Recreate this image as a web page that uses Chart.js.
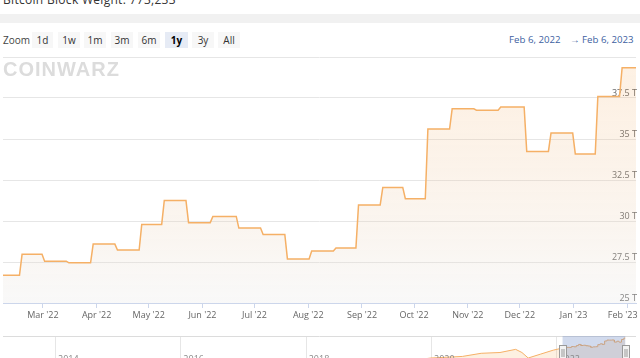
<!DOCTYPE html>
<html>
<head>
<meta charset="utf-8">
<script src="https://cdn.jsdelivr.net/npm/chart.js@4.4.1/dist/chart.umd.min.js"></script>
<style>
  body { margin: 0; width: 640px; height: 358px; overflow: hidden; background: #fff; position: relative; font-family: "Open Sans", sans-serif; }
  .title { position: absolute; left: 3px; top: -9px; font-size: 12px; color: #333; white-space: nowrap; letter-spacing: 0.3px; }
  .band { position: absolute; left: 0; top: 14px; width: 640px; height: 9px; background: #f1f1f1; }
  .zoom { position: absolute; left: 3px; top: 32px; height: 16px; font-size: 10px; color: #444; line-height: 16px; }
  .btn { position: absolute; top: 32px; height: 16px; line-height: 16px; font-size: 10px; text-align: center; background: #f7f7f7; color: #333; }
  .btn.on { background: #e6ebf5; color: #000; font-weight: bold; }
  .range { position: absolute; top: 32px; line-height: 16px; font-size: 9.7px; color: #3d5f9f; white-space: nowrap; }
  .logo { position: absolute; left: 3px; top: 59px; font-family: "Liberation Sans", sans-serif; font-weight: bold; font-size: 20px; letter-spacing: 1px; color: #dcdcdc; line-height: 20px; }
  canvas { position: absolute; left: 0; }
</style>
</head>
<body>
<div class="title">Bitcoin Block Weight: 773,233</div>
<div class="band"></div>
<div class="zoom">Zoom</div>
<div class="btn" style="left:32px;width:21px">1d</div>
<div class="btn" style="left:58px;width:22px">1w</div>
<div class="btn" style="left:84px;width:22px">1m</div>
<div class="btn" style="left:111px;width:22px">3m</div>
<div class="btn" style="left:138px;width:22px">6m</div>
<div class="btn on" style="left:165px;width:23px">1y</div>
<div class="btn" style="left:192px;width:22px">3y</div>
<div class="btn" style="left:218px;width:22px">All</div>
<div class="range" style="left:509px">Feb 6, 2022</div>
<div class="range" style="left:570px">&rarr;</div>
<div class="range" style="left:582px">Feb 6, 2023</div>
<canvas id="main" width="640" height="280" style="top:50px"></canvas>
<canvas id="nav" width="640" height="33" style="top:336px"></canvas>
<div class="logo">COINWARZ</div>

<script>
// difficulty adjustments (T) over the 1y window
const adjustDates = ["2022-02-06", "2022-02-17", "2022-03-02", "2022-03-16", "2022-03-30", "2022-04-13",
  "2022-04-27", "2022-05-10", "2022-05-24", "2022-06-07", "2022-06-22", "2022-07-06", "2022-07-20",
  "2022-08-03", "2022-08-17", "2022-08-30", "2022-09-13", "2022-09-26", "2022-10-09", "2022-10-23",
  "2022-11-06", "2022-11-20", "2022-12-05", "2022-12-19", "2023-01-02", "2023-01-15", "2023-01-29"];
const difficulty = [26.69, 27.97, 27.55, 27.45, 28.59, 28.23, 29.79, 31.25, 29.90, 30.28, 29.57, 29.18, 27.69,
  28.17, 28.35, 30.98, 32.05, 31.36, 35.61, 36.84, 36.76, 36.95, 34.24, 35.36, 34.09, 37.59, 39.35];
const rangeEnd = "2023-02-06";

const monthTicks = ["2022-03-01", "2022-04-01", "2022-05-01", "2022-06-01", "2022-07-01", "2022-08-01",
  "2022-09-01", "2022-10-01", "2022-11-01", "2022-12-01", "2023-01-01", "2023-02-01"];
const monthLabels = ["Mar '22", "Apr '22", "May '22", "Jun '22", "Jul '22", "Aug '22",
  "Sep '22", "Oct '22", "Nov '22", "Dec '22", "Jan '23", "Feb '23"];
const yTicks = [25, 27.5, 30, 32.5, 35, 37.5, 40];

// navigator history before the window (year, T)
const navYears = [2013.2, 2016, 2018, 2018.8, 2019.1, 2019.6, 2020.0, 2020.5, 2020.8, 2021.1, 2021.35, 2021.45, 2021.55, 2021.75, 2021.95];
const navValues = [0.01, 0.2, 2, 7, 5.6, 10, 14, 16, 20, 21, 25, 21, 14, 19, 24];
const navYearLabels = [2014, 2016, 2018, 2020, 2022];

const FONT = "Open Sans";
const DAY = 86400000;
const t0 = Date.parse(adjustDates[0]);
const day = s => (Date.parse(s) - t0) / DAY;
const year = s => 2022 + (Date.parse(s) - Date.parse("2022-01-01")) / (365 * DAY);

// daily series: flat between adjustments, short ramp at each change
const points = [];
adjustDates.forEach((d, i) => {
  const next = i < adjustDates.length - 1 ? day(adjustDates[i + 1]) - 1.5 : day(rangeEnd);
  points.push({ x: day(d), y: difficulty[i] });
  points.push({ x: next, y: difficulty[i] });
});

new Chart(document.getElementById("main"), {
  type: "line",
  data: {
    datasets: [{
      data: points,
      borderColor: "#f5b066",
      borderWidth: 1.5,
      pointRadius: 0,
      tension: 0,
      fill: "start",
      backgroundColor: c => {
        const a = c.chart.chartArea;
        if (!a) return "rgba(0,0,0,0)";
        const g = c.chart.ctx.createLinearGradient(0, a.top, 0, a.bottom);
        g.addColorStop(0, "rgba(246,170,90,0.17)");
        g.addColorStop(1, "rgba(230,230,230,0.25)");
        return g;
      }
    }]
  },
  options: {
    responsive: false,
    animation: false,
    layout: { padding: { top: 7, left: 3, right: 0, bottom: 0 } },
    plugins: { legend: { display: false }, tooltip: { enabled: false } },
    scales: {
      x: {
        type: "linear",
        min: 0,
        max: day(rangeEnd),
        afterBuildTicks: s => { s.ticks = monthTicks.map(d => ({ value: day(d) })); },
        afterFit: s => { s.height = 27; s.paddingLeft = 0; s.paddingRight = 0; },
        ticks: {
          autoSkip: false,
          maxRotation: 0,
          padding: 2,
          color: "#666",
          font: { family: FONT, size: 9 },
          // last label is nudged inward so it stays on the canvas, like the original
          callback: (v, i) => i === monthLabels.length - 1 ? monthLabels[i] + "\u00a0\u00a0\u00a0\u00a0" : monthLabels[i]
        },
        grid: { drawOnChartArea: false, drawTicks: true, tickLength: 5, color: "#ccd6eb" },
        border: { color: "#ccd6eb" }
      },
      y: {
        position: "right",
        min: 25,
        max: 40,
        afterBuildTicks: s => { s.ticks = yTicks.map(v => ({ value: v })); },
        afterFit: s => { s.width = 4; s.paddingTop = 0; s.paddingBottom = 0; },
        ticks: {
          mirror: true,
          padding: 1,
          labelOffset: -5,
          color: "#666",
          font: { family: FONT, size: 9 },
          callback: v => v === 40 ? "" : v + " T"
        },
        grid: { color: "#e6e6e6", drawTicks: false },
        border: { display: false }
      }
    }
  }
});

// navigator
const navPoints = navYears.map((y, i) => ({ x: y, y: navValues[i] }));
points.forEach(p => navPoints.push({ x: year(adjustDates[0]) + p.x / 365, y: p.y }));

const navDecor = {
  id: "navDecor",
  beforeDatasetsDraw(chart) {
    const { ctx, chartArea: a, scales: { x } } = chart;
    ctx.save();
    ctx.strokeStyle = "#e6e6e6";
    ctx.lineWidth = 1;
    navYearLabels.forEach(yr => {
      const px = Math.round(x.getPixelForValue(yr)) + 0.5;
      ctx.beginPath(); ctx.moveTo(px, a.top); ctx.lineTo(px, a.bottom); ctx.stroke();
    });
    ctx.strokeStyle = "#dcdcdc";
    ctx.beginPath(); ctx.moveTo(a.left, 0.5); ctx.lineTo(a.right, 0.5); ctx.stroke();
    ctx.restore();
  },
  afterDatasetsDraw(chart) {
    const { ctx, chartArea: a, scales: { x } } = chart;
    const x1 = x.getPixelForValue(year(adjustDates[0]));
    const x2 = x.getPixelForValue(year(rangeEnd));
    ctx.save();
    ctx.fillStyle = "rgba(102,133,194,0.3)";
    ctx.fillRect(x1, a.top, x2 - x1, a.bottom - a.top);
    ctx.fillStyle = "#888";
    ctx.font = "9px " + FONT;
    ctx.textBaseline = "top";
    navYearLabels.forEach(yr => ctx.fillText(String(yr), x.getPixelForValue(yr) + 3, 19));
    [x1, x2].forEach(hx => {
      const l = Math.round(hx - 3.5) + 0.5;
      ctx.fillStyle = "#f2f2f2";
      ctx.strokeStyle = "#999";
      ctx.fillRect(l, 9.5, 7, 15);
      ctx.strokeRect(l, 9.5, 7, 15);
      ctx.beginPath();
      ctx.moveTo(l + 2.5, 13); ctx.lineTo(l + 2.5, 21);
      ctx.moveTo(l + 4.5, 13); ctx.lineTo(l + 4.5, 21);
      ctx.stroke();
    });
    ctx.restore();
  }
};

new Chart(document.getElementById("nav"), {
  type: "line",
  data: {
    datasets: [{
      data: navPoints,
      borderColor: "#f5b066",
      borderWidth: 1,
      pointRadius: 0,
      fill: "origin",
      backgroundColor: "rgba(246,170,90,0.18)"
    }]
  },
  options: {
    responsive: false,
    animation: false,
    layout: { padding: { left: 3, right: 4, top: 0, bottom: 0 } },
    plugins: { legend: { display: false }, tooltip: { enabled: false } },
    scales: {
      x: { type: "linear", display: false, min: 2013.17, max: 2023.27 },
      y: { display: false, min: 0, max: 42 }
    }
  },
  plugins: [navDecor]
});
</script>
</body>
</html>
